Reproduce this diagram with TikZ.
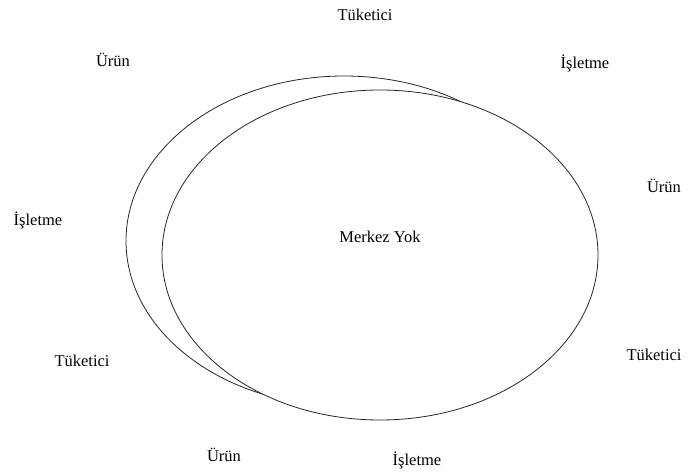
\documentclass[tikz,border=0pt]{standalone}
\usepackage{fontspec}
\setmainfont{Liberation Serif}
\newcommand{\lblsize}{\fontsize{16.5}{18}\selectfont}

\begin{document}
\begin{tikzpicture}[x=1pt,y=-1pt,
	lbl/.style={inner sep=0pt,font=\lblsize},
	ring/.style={line width=0.8pt,color=black!85}]
			\useasboundingbox (0,0) rectangle (690,473);
			% back ring
			\draw[ring] (344,241) ellipse [x radius=218pt,y radius=165pt];
			% front ring
			\draw[ring,fill=white] (380,255) ellipse [x radius=218pt,y radius=165pt];
			\node[lbl] (merkez) at (380,237) {Merkez Yok};
			% labels round the rings
			\node[lbl] (tuk1) at (365,15) {Tüketici};
			\node[lbl] (urun1) at (113,60) {Ürün};
			\node[lbl] (isl1) at (585,63) {İşletme};
			\node[lbl] (urun2) at (664,186) {Ürün};
			\node[lbl] (isl2) at (38,220) {İşletme};
			\node[lbl] (tuk2) at (82,361) {Tüketici};
			\node[lbl] (tuk3) at (654,355) {Tüketici};
			\node[lbl] (urun3) at (224,455) {Ürün};
			\node[lbl] (isl3) at (417,460) {İşletme};
		\end{tikzpicture}
\end{document}
